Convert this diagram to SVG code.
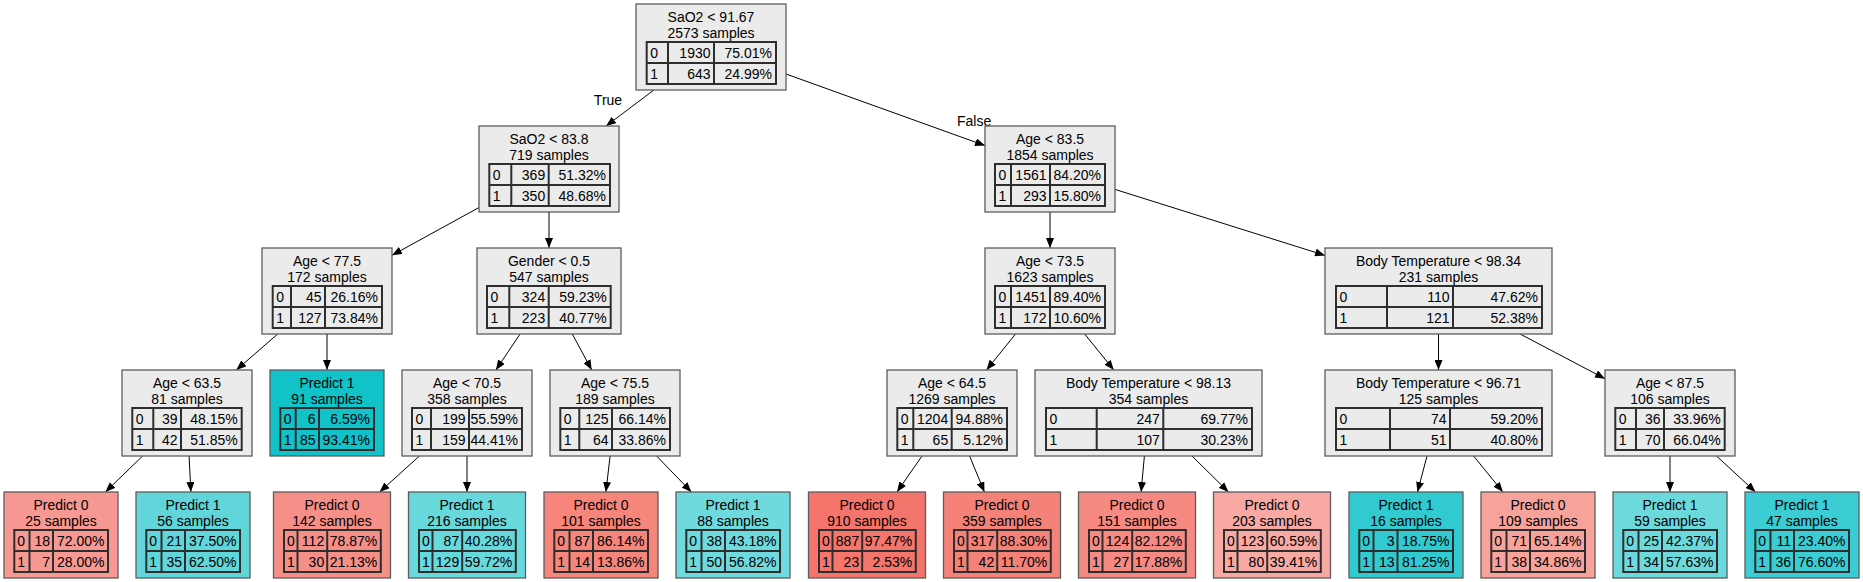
<svg xmlns="http://www.w3.org/2000/svg" width="1863" height="582" viewBox="0 0 1863 582">
<style>
text{font-family:"Liberation Sans",Arial,Helvetica,sans-serif;font-size:14px;fill:#000}
.c{text-anchor:middle}
.r{text-anchor:end}
.box{stroke:#5c5c5c;stroke-width:1.3}
.g{fill:#ebebeb}
.tb{fill:none;stroke:#2e2e2e;stroke-width:2}
.tl{fill:none;stroke:#2e2e2e;stroke-width:2}
.e{stroke:#000;stroke-width:1;fill:none;marker-end:url(#arr)}
</style>
<defs>
<marker id="arr" markerUnits="userSpaceOnUse" markerWidth="10" markerHeight="8" refX="10" refY="4" orient="auto"><path d="M0,0L10,4L0,8z" fill="#000"/></marker>
</defs>
<rect x="0" y="0" width="1863" height="582" fill="#fff"/>
<g id="edges">
<line class="e" x1="653.9" y1="90" x2="606.1" y2="126"/>
<line class="e" x1="786" y1="74" x2="985" y2="145.6"/>
<line class="e" x1="479" y1="207.5" x2="392" y2="255.3"/>
<line class="e" x1="549" y1="212" x2="549" y2="248"/>
<line class="e" x1="277.7" y1="334" x2="236.3" y2="370"/>
<line class="e" x1="327" y1="334" x2="327" y2="370"/>
<line class="e" x1="520.1" y1="334" x2="495.9" y2="370"/>
<line class="e" x1="572.3" y1="334" x2="591.7" y2="370"/>
<line class="e" x1="142.6" y1="456" x2="105.4" y2="492"/>
<line class="e" x1="189.1" y1="456" x2="190.9" y2="492"/>
<line class="e" x1="419.4" y1="456" x2="379.6" y2="492"/>
<line class="e" x1="467" y1="456" x2="467" y2="492"/>
<line class="e" x1="610.1" y1="456" x2="605.9" y2="492"/>
<line class="e" x1="656.6" y1="456" x2="691.4" y2="492"/>
<line class="e" x1="1050" y1="212" x2="1050" y2="248"/>
<line class="e" x1="1115" y1="189.4" x2="1325" y2="255.4"/>
<line class="e" x1="1015.5" y1="334" x2="986.5" y2="370"/>
<line class="e" x1="1084.7" y1="334" x2="1113.8" y2="370"/>
<line class="e" x1="1438.5" y1="334" x2="1438.5" y2="370"/>
<line class="e" x1="1520.1" y1="334" x2="1605" y2="378.7"/>
<line class="e" x1="922" y1="456" x2="897" y2="492"/>
<line class="e" x1="969.6" y1="456" x2="984.4" y2="492"/>
<line class="e" x1="1144.4" y1="456" x2="1141.1" y2="492"/>
<line class="e" x1="1192" y1="456" x2="1228.5" y2="492"/>
<line class="e" x1="1427" y1="456" x2="1417.5" y2="492"/>
<line class="e" x1="1473.6" y1="456" x2="1502.9" y2="492"/>
<line class="e" x1="1670" y1="456" x2="1670" y2="492"/>
<line class="e" x1="1716.5" y1="456" x2="1755.5" y2="492"/>
<text class="c" x="608" y="104.5">True</text>
<text x="957" y="125.5">False</text>
</g>

<g id="n0">
<rect class="box g" x="636" y="4" width="150" height="86"/>
<text class="c" x="711" y="21.5">SaO2 &lt; 91.67</text>
<text class="c" x="711" y="38">2573 samples</text>
<rect class="tb" x="646.7" y="42" width="129.3" height="42"/>
<path class="tl" d="M646.7,63H776M668,42V84M714,42V84"/>
<text x="650.2" y="58">0</text><text class="r" x="710.5" y="58">1930</text><text class="r" x="772" y="58">75.01%</text>
<text x="650.2" y="79">1</text><text class="r" x="710.5" y="79">643</text><text class="r" x="772" y="79">24.99%</text>
</g>

<g id="n1">
<rect class="box g" x="479" y="126" width="140" height="86"/>
<text class="c" x="549" y="143.5">SaO2 &lt; 83.8</text>
<text class="c" x="549" y="160">719 samples</text>
<rect class="tb" x="489.3" y="164" width="120.7" height="42"/>
<path class="tl" d="M489.3,185H610M511.3,164V206M548.7,164V206"/>
<text x="492.8" y="180">0</text><text class="r" x="545.2" y="180">369</text><text class="r" x="606" y="180">51.32%</text>
<text x="492.8" y="201">1</text><text class="r" x="545.2" y="201">350</text><text class="r" x="606" y="201">48.68%</text>
</g>

<g id="n2">
<rect class="box g" x="985" y="126" width="130" height="86"/>
<text class="c" x="1050" y="143.5">Age &lt; 83.5</text>
<text class="c" x="1050" y="160">1854 samples</text>
<rect class="tb" x="995" y="164" width="110" height="42"/>
<path class="tl" d="M995,185H1105M1011,164V206M1050,164V206"/>
<text x="998.5" y="180">0</text><text class="r" x="1046.5" y="180">1561</text><text class="r" x="1101" y="180">84.20%</text>
<text x="998.5" y="201">1</text><text class="r" x="1046.5" y="201">293</text><text class="r" x="1101" y="201">15.80%</text>
</g>

<g id="n3">
<rect class="box g" x="262" y="248" width="130" height="86"/>
<text class="c" x="327" y="265.5">Age &lt; 77.5</text>
<text class="c" x="327" y="282">172 samples</text>
<rect class="tb" x="272.7" y="286" width="109.3" height="42"/>
<path class="tl" d="M272.7,307H382M291,286V328M325,286V328"/>
<text x="276.2" y="302">0</text><text class="r" x="321.5" y="302">45</text><text class="r" x="378" y="302">26.16%</text>
<text x="276.2" y="323">1</text><text class="r" x="321.5" y="323">127</text><text class="r" x="378" y="323">73.84%</text>
</g>

<g id="n4">
<rect class="box g" x="477" y="248" width="144" height="86"/>
<text class="c" x="549" y="265.5">Gender &lt; 0.5</text>
<text class="c" x="549" y="282">547 samples</text>
<rect class="tb" x="487" y="286" width="123.7" height="42"/>
<path class="tl" d="M487,307H610.7M509.3,286V328M548.7,286V328"/>
<text x="490.5" y="302">0</text><text class="r" x="545.2" y="302">324</text><text class="r" x="606.7" y="302">59.23%</text>
<text x="490.5" y="323">1</text><text class="r" x="545.2" y="323">223</text><text class="r" x="606.7" y="323">40.77%</text>
</g>

<g id="n5">
<rect class="box g" x="985" y="248" width="130" height="86"/>
<text class="c" x="1050" y="265.5">Age &lt; 73.5</text>
<text class="c" x="1050" y="282">1623 samples</text>
<rect class="tb" x="995" y="286" width="110" height="42"/>
<path class="tl" d="M995,307H1105M1011,286V328M1050,286V328"/>
<text x="998.5" y="302">0</text><text class="r" x="1046.5" y="302">1451</text><text class="r" x="1101" y="302">89.40%</text>
<text x="998.5" y="323">1</text><text class="r" x="1046.5" y="323">172</text><text class="r" x="1101" y="323">10.60%</text>
</g>

<g id="n6">
<rect class="box g" x="1325" y="248" width="227" height="86"/>
<text class="c" x="1438.5" y="265.5">Body Temperature &lt; 98.34</text>
<text class="c" x="1438.5" y="282">231 samples</text>
<rect class="tb" x="1336" y="286" width="206" height="42"/>
<path class="tl" d="M1336,307H1542M1387,286V328M1453,286V328"/>
<text x="1339.5" y="302">0</text><text class="r" x="1449.5" y="302">110</text><text class="r" x="1538" y="302">47.62%</text>
<text x="1339.5" y="323">1</text><text class="r" x="1449.5" y="323">121</text><text class="r" x="1538" y="323">52.38%</text>
</g>

<g id="n7">
<rect class="box g" x="122" y="370" width="130" height="86"/>
<text class="c" x="187" y="387.5">Age &lt; 63.5</text>
<text class="c" x="187" y="404">81 samples</text>
<rect class="tb" x="132.3" y="408" width="109.4" height="42"/>
<path class="tl" d="M132.3,429H241.7M153.3,408V450M181,408V450"/>
<text x="135.8" y="424">0</text><text class="r" x="177.5" y="424">39</text><text class="r" x="237.7" y="424">48.15%</text>
<text x="135.8" y="445">1</text><text class="r" x="177.5" y="445">42</text><text class="r" x="237.7" y="445">51.85%</text>
</g>

<g id="n8">
<rect class="box" fill="#11c2c9" x="270" y="370" width="114" height="86"/>
<text class="c" x="327" y="387.5">Predict 1</text>
<text class="c" x="327" y="404">91 samples</text>
<rect class="tb" x="280.3" y="408" width="93.7" height="42"/>
<path class="tl" d="M280.3,429H374M295.7,408V450M319,408V450"/>
<text x="283.8" y="424">0</text><text class="r" x="315.5" y="424">6</text><text class="r" x="370" y="424">6.59%</text>
<text x="283.8" y="445">1</text><text class="r" x="315.5" y="445">85</text><text class="r" x="370" y="445">93.41%</text>
</g>

<g id="n9">
<rect class="box g" x="402" y="370" width="130" height="86"/>
<text class="c" x="467" y="387.5">Age &lt; 70.5</text>
<text class="c" x="467" y="404">358 samples</text>
<rect class="tb" x="412" y="408" width="110" height="42"/>
<path class="tl" d="M412,429H522M431,408V450M469,408V450"/>
<text x="415.5" y="424">0</text><text class="r" x="465.5" y="424">199</text><text class="r" x="518" y="424">55.59%</text>
<text x="415.5" y="445">1</text><text class="r" x="465.5" y="445">159</text><text class="r" x="518" y="445">44.41%</text>
</g>

<g id="n10">
<rect class="box g" x="550" y="370" width="130" height="86"/>
<text class="c" x="615" y="387.5">Age &lt; 75.5</text>
<text class="c" x="615" y="404">189 samples</text>
<rect class="tb" x="560.3" y="408" width="109.7" height="42"/>
<path class="tl" d="M560.3,429H670M579.3,408V450M612,408V450"/>
<text x="563.8" y="424">0</text><text class="r" x="608.5" y="424">125</text><text class="r" x="666" y="424">66.14%</text>
<text x="563.8" y="445">1</text><text class="r" x="608.5" y="445">64</text><text class="r" x="666" y="445">33.86%</text>
</g>

<g id="n11">
<rect class="box g" x="887" y="370" width="130" height="86"/>
<text class="c" x="952" y="387.5">Age &lt; 64.5</text>
<text class="c" x="952" y="404">1269 samples</text>
<rect class="tb" x="897.3" y="408" width="109.7" height="42"/>
<path class="tl" d="M897.3,429H1007M913.3,408V450M951.7,408V450"/>
<text x="900.8" y="424">0</text><text class="r" x="948.2" y="424">1204</text><text class="r" x="1003" y="424">94.88%</text>
<text x="900.8" y="445">1</text><text class="r" x="948.2" y="445">65</text><text class="r" x="1003" y="445">5.12%</text>
</g>

<g id="n12">
<rect class="box g" x="1035" y="370" width="227" height="86"/>
<text class="c" x="1148.5" y="387.5">Body Temperature &lt; 98.13</text>
<text class="c" x="1148.5" y="404">354 samples</text>
<rect class="tb" x="1046" y="408" width="206" height="42"/>
<path class="tl" d="M1046,429H1252M1096.7,408V450M1163.3,408V450"/>
<text x="1049.5" y="424">0</text><text class="r" x="1159.8" y="424">247</text><text class="r" x="1248" y="424">69.77%</text>
<text x="1049.5" y="445">1</text><text class="r" x="1159.8" y="445">107</text><text class="r" x="1248" y="445">30.23%</text>
</g>

<g id="n13">
<rect class="box g" x="1325" y="370" width="227" height="86"/>
<text class="c" x="1438.5" y="387.5">Body Temperature &lt; 96.71</text>
<text class="c" x="1438.5" y="404">125 samples</text>
<rect class="tb" x="1336" y="408" width="206" height="42"/>
<path class="tl" d="M1336,429H1542M1390,408V450M1450,408V450"/>
<text x="1339.5" y="424">0</text><text class="r" x="1446.5" y="424">74</text><text class="r" x="1538" y="424">59.20%</text>
<text x="1339.5" y="445">1</text><text class="r" x="1446.5" y="445">51</text><text class="r" x="1538" y="445">40.80%</text>
</g>

<g id="n14">
<rect class="box g" x="1605" y="370" width="130" height="86"/>
<text class="c" x="1670" y="387.5">Age &lt; 87.5</text>
<text class="c" x="1670" y="404">106 samples</text>
<rect class="tb" x="1615.3" y="408" width="109.4" height="42"/>
<path class="tl" d="M1615.3,429H1724.7M1636,408V450M1664,408V450"/>
<text x="1618.8" y="424">0</text><text class="r" x="1660.5" y="424">36</text><text class="r" x="1720.7" y="424">33.96%</text>
<text x="1618.8" y="445">1</text><text class="r" x="1660.5" y="445">70</text><text class="r" x="1720.7" y="445">66.04%</text>
</g>

<g id="n15">
<rect class="box" fill="#f79992" x="4" y="492" width="114" height="86"/>
<text class="c" x="61" y="509.5">Predict 0</text>
<text class="c" x="61" y="526">25 samples</text>
<rect class="tb" x="14.3" y="530" width="93.7" height="42"/>
<path class="tl" d="M14.3,551H108M29.5,530V572M53,530V572"/>
<text x="17.3" y="546">0</text><text class="r" x="50" y="546">18</text><text class="r" x="104.5" y="546">72.00%</text>
<text x="17.3" y="567">1</text><text class="r" x="50" y="567">7</text><text class="r" x="104.5" y="567">28.00%</text>
</g>

<g id="n16">
<rect class="box" fill="#60d6db" x="136" y="492" width="114" height="86"/>
<text class="c" x="193" y="509.5">Predict 1</text>
<text class="c" x="193" y="526">56 samples</text>
<rect class="tb" x="146.3" y="530" width="93.7" height="42"/>
<path class="tl" d="M146.3,551H240M161.5,530V572M185,530V572"/>
<text x="149.3" y="546">0</text><text class="r" x="182" y="546">21</text><text class="r" x="236.5" y="546">37.50%</text>
<text x="149.3" y="567">1</text><text class="r" x="182" y="567">35</text><text class="r" x="236.5" y="567">62.50%</text>
</g>

<g id="n17">
<rect class="box" fill="#f68f87" x="273.5" y="492" width="117" height="86"/>
<text class="c" x="332" y="509.5">Predict 0</text>
<text class="c" x="332" y="526">142 samples</text>
<rect class="tb" x="284" y="530" width="96.8" height="42"/>
<path class="tl" d="M284,551H380.8M297.5,530V572M327.2,530V572"/>
<text x="287" y="546">0</text><text class="r" x="324.2" y="546">112</text><text class="r" x="377.3" y="546">78.87%</text>
<text x="287" y="567">1</text><text class="r" x="324.2" y="567">30</text><text class="r" x="377.3" y="567">21.13%</text>
</g>

<g id="n18">
<rect class="box" fill="#67d8dc" x="408.5" y="492" width="117" height="86"/>
<text class="c" x="467" y="509.5">Predict 1</text>
<text class="c" x="467" y="526">216 samples</text>
<rect class="tb" x="419" y="530" width="96.8" height="42"/>
<path class="tl" d="M419,551H515.8M432.5,530V572M462.2,530V572"/>
<text x="422" y="546">0</text><text class="r" x="459.2" y="546">87</text><text class="r" x="512.3" y="546">40.28%</text>
<text x="422" y="567">1</text><text class="r" x="459.2" y="567">129</text><text class="r" x="512.3" y="567">59.72%</text>
</g>

<g id="n19">
<rect class="box" fill="#f6857c" x="544" y="492" width="114" height="86"/>
<text class="c" x="601" y="509.5">Predict 0</text>
<text class="c" x="601" y="526">101 samples</text>
<rect class="tb" x="554.3" y="530" width="93.7" height="42"/>
<path class="tl" d="M554.3,551H648M569.5,530V572M593,530V572"/>
<text x="557.3" y="546">0</text><text class="r" x="590" y="546">87</text><text class="r" x="644.5" y="546">86.14%</text>
<text x="557.3" y="567">1</text><text class="r" x="590" y="567">14</text><text class="r" x="644.5" y="567">13.86%</text>
</g>

<g id="n20">
<rect class="box" fill="#6edade" x="676" y="492" width="114" height="86"/>
<text class="c" x="733" y="509.5">Predict 1</text>
<text class="c" x="733" y="526">88 samples</text>
<rect class="tb" x="686.3" y="530" width="93.7" height="42"/>
<path class="tl" d="M686.3,551H780M701.5,530V572M725,530V572"/>
<text x="689.3" y="546">0</text><text class="r" x="722" y="546">38</text><text class="r" x="776.5" y="546">43.18%</text>
<text x="689.3" y="567">1</text><text class="r" x="722" y="567">50</text><text class="r" x="776.5" y="567">56.82%</text>
</g>

<g id="n21">
<rect class="box" fill="#f4756b" x="808.5" y="492" width="117" height="86"/>
<text class="c" x="867" y="509.5">Predict 0</text>
<text class="c" x="867" y="526">910 samples</text>
<rect class="tb" x="819" y="530" width="96.8" height="42"/>
<path class="tl" d="M819,551H915.8M832.5,530V572M862.2,530V572"/>
<text x="822" y="546">0</text><text class="r" x="859.2" y="546">887</text><text class="r" x="912.3" y="546">97.47%</text>
<text x="822" y="567">1</text><text class="r" x="859.2" y="567">23</text><text class="r" x="912.3" y="567">2.53%</text>
</g>

<g id="n22">
<rect class="box" fill="#f58279" x="943.5" y="492" width="117" height="86"/>
<text class="c" x="1002" y="509.5">Predict 0</text>
<text class="c" x="1002" y="526">359 samples</text>
<rect class="tb" x="954" y="530" width="96.8" height="42"/>
<path class="tl" d="M954,551H1050.8M967.5,530V572M997.2,530V572"/>
<text x="957" y="546">0</text><text class="r" x="994.2" y="546">317</text><text class="r" x="1047.3" y="546">88.30%</text>
<text x="957" y="567">1</text><text class="r" x="994.2" y="567">42</text><text class="r" x="1047.3" y="567">11.70%</text>
</g>

<g id="n23">
<rect class="box" fill="#f68a82" x="1078.5" y="492" width="117" height="86"/>
<text class="c" x="1137" y="509.5">Predict 0</text>
<text class="c" x="1137" y="526">151 samples</text>
<rect class="tb" x="1089" y="530" width="96.8" height="42"/>
<path class="tl" d="M1089,551H1185.8M1102.5,530V572M1132.2,530V572"/>
<text x="1092" y="546">0</text><text class="r" x="1129.2" y="546">124</text><text class="r" x="1182.3" y="546">82.12%</text>
<text x="1092" y="567">1</text><text class="r" x="1129.2" y="567">27</text><text class="r" x="1182.3" y="567">17.88%</text>
</g>

<g id="n24">
<rect class="box" fill="#f8a9a3" x="1213.5" y="492" width="117" height="86"/>
<text class="c" x="1272" y="509.5">Predict 0</text>
<text class="c" x="1272" y="526">203 samples</text>
<rect class="tb" x="1224" y="530" width="96.8" height="42"/>
<path class="tl" d="M1224,551H1320.8M1237.5,530V572M1267.2,530V572"/>
<text x="1227" y="546">0</text><text class="r" x="1264.2" y="546">123</text><text class="r" x="1317.3" y="546">60.59%</text>
<text x="1227" y="567">1</text><text class="r" x="1264.2" y="567">80</text><text class="r" x="1317.3" y="567">39.41%</text>
</g>

<g id="n25">
<rect class="box" fill="#30cad0" x="1349" y="492" width="114" height="86"/>
<text class="c" x="1406" y="509.5">Predict 1</text>
<text class="c" x="1406" y="526">16 samples</text>
<rect class="tb" x="1359.3" y="530" width="93.7" height="42"/>
<path class="tl" d="M1359.3,551H1453M1373.5,530V572M1397.5,530V572"/>
<text x="1362.3" y="546">0</text><text class="r" x="1394.5" y="546">3</text><text class="r" x="1449.5" y="546">18.75%</text>
<text x="1362.3" y="567">1</text><text class="r" x="1394.5" y="567">13</text><text class="r" x="1449.5" y="567">81.25%</text>
</g>

<g id="n26">
<rect class="box" fill="#f8a29c" x="1481" y="492" width="114" height="86"/>
<text class="c" x="1538" y="509.5">Predict 0</text>
<text class="c" x="1538" y="526">109 samples</text>
<rect class="tb" x="1491.3" y="530" width="93.7" height="42"/>
<path class="tl" d="M1491.3,551H1585M1506.5,530V572M1530,530V572"/>
<text x="1494.3" y="546">0</text><text class="r" x="1527" y="546">71</text><text class="r" x="1581.5" y="546">65.14%</text>
<text x="1494.3" y="567">1</text><text class="r" x="1527" y="567">38</text><text class="r" x="1581.5" y="567">34.86%</text>
</g>

<g id="n27">
<rect class="box" fill="#6cd9dd" x="1613" y="492" width="114" height="86"/>
<text class="c" x="1670" y="509.5">Predict 1</text>
<text class="c" x="1670" y="526">59 samples</text>
<rect class="tb" x="1623.3" y="530" width="93.7" height="42"/>
<path class="tl" d="M1623.3,551H1717M1638.5,530V572M1662,530V572"/>
<text x="1626.3" y="546">0</text><text class="r" x="1659" y="546">25</text><text class="r" x="1713.5" y="546">42.37%</text>
<text x="1626.3" y="567">1</text><text class="r" x="1659" y="567">34</text><text class="r" x="1713.5" y="567">57.63%</text>
</g>

<g id="n28">
<rect class="box" fill="#3bcdd3" x="1745" y="492" width="114" height="86"/>
<text class="c" x="1802" y="509.5">Predict 1</text>
<text class="c" x="1802" y="526">47 samples</text>
<rect class="tb" x="1755.3" y="530" width="93.7" height="42"/>
<path class="tl" d="M1755.3,551H1849M1770.5,530V572M1794,530V572"/>
<text x="1758.3" y="546">0</text><text class="r" x="1791" y="546">11</text><text class="r" x="1845.5" y="546">23.40%</text>
<text x="1758.3" y="567">1</text><text class="r" x="1791" y="567">36</text><text class="r" x="1845.5" y="567">76.60%</text>
</g>
</svg>
